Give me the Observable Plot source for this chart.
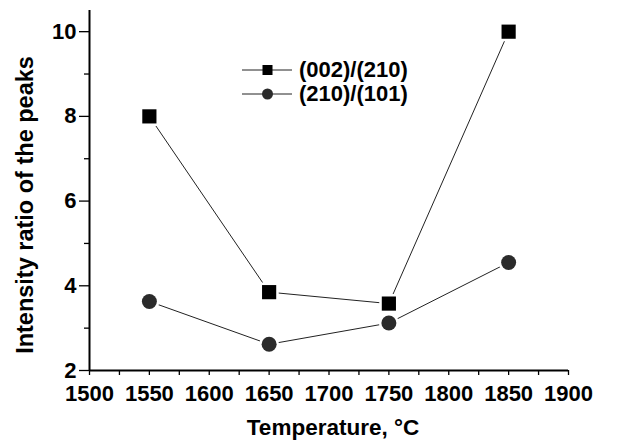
<!DOCTYPE html>
<html>
<head>
<meta charset="utf-8">
<script src="https://cdn.jsdelivr.net/npm/d3@7"></script>
<script src="https://cdn.jsdelivr.net/npm/@observablehq/plot@0.6"></script>
<style>
  html, body { margin: 0; padding: 0; background: #fff; }
  #wrap { position: relative; width: 620px; height: 440px; font-family: "Liberation Sans", Arial, sans-serif; }
  #legend { position: absolute; left: 240px; top: 58px; }
  #legend .row { display: flex; align-items: center; height: 24px; font-weight: bold; font-size: 22px; color: #000; }
  #legend svg { margin-right: 5px; }
</style>
</head>
<body>
<div id="wrap"></div>
<script>
const temperatures = [1550, 1650, 1750, 1850];
const ratio002_210 = [8.0, 3.85, 3.58, 10.0];
const ratio210_101 = [3.63, 2.62, 3.12, 4.55];
const seriesNames = ["(002)/(210)", "(210)/(101)"];
const xLabelTicks = [1500, 1550, 1600, 1650, 1700, 1750, 1800, 1850, 1900];
const xMinorTicks = d3.range(1500, 1901, 25);
const yLabelTicks = [2, 4, 6, 8, 10];
const yMinorTicks = [3, 5, 7, 9];

const sq = temperatures.map((t, i) => ({t, v: ratio002_210[i]}));
const ci = temperatures.map((t, i) => ({t, v: ratio210_101[i]}));

const font = "Liberation Sans, Arial, sans-serif";

const plot = Plot.plot({
  width: 620,
  height: 440,
  marginLeft: 89,
  marginRight: 52,
  marginTop: 10,
  marginBottom: 70,
  style: {fontFamily: font, fontWeight: "bold", background: "white", color: "black"},
  x: {domain: [1500, 1900]},
  y: {domain: [2, 10.5]},
  marks: [
    Plot.axisX(xMinorTicks, {tickSize: 5, tickFormat: () => "", stroke: "black", strokeWidth: 1.3, label: null}),
    Plot.axisX(xLabelTicks, {tickSize: 0, tickPadding: 15, fontSize: 22, fontWeight: "bold", tickFormat: d => String(d), label: null}),
    Plot.axisY(yLabelTicks, {tickSize: 10, tickPadding: 3, fontSize: 22, fontWeight: "bold", stroke: "black", strokeWidth: 1.3, label: null}),
    Plot.axisY(yMinorTicks, {tickSize: 5, tickFormat: () => "", stroke: "black", strokeWidth: 1.3, label: null}),
    Plot.ruleY([2], {stroke: "black", strokeWidth: 2}),
    Plot.ruleX([1500], {stroke: "black", strokeWidth: 2}),
    Plot.line(sq, {x: "t", y: "v", stroke: "#222", strokeWidth: 1}),
    Plot.line(ci, {x: "t", y: "v", stroke: "#222", strokeWidth: 1}),
    Plot.dot(sq, {x: "t", y: "v", symbol: "square", r: 8, fill: "black", stroke: "white", strokeWidth: 5, paintOrder: "stroke"}),
    Plot.dot(ci, {x: "t", y: "v", symbol: "circle", r: 7.5, fill: "#2b2b2b", stroke: "white", strokeWidth: 5, paintOrder: "stroke"})
  ]
});

const svg = d3.select(plot);
svg.selectAll("text").style("font-size", "22px").style("font-weight", "bold");

svg.append("text")
  .attr("x", 333).attr("y", 435)
  .attr("text-anchor", "middle")
  .style("font-family", font).style("font-weight", "bold").style("font-size", "22.5px")
  .text("Temperature, °C");
svg.append("text")
  .attr("transform", "translate(33,205) rotate(-90)")
  .attr("text-anchor", "middle")
  .style("font-family", font).style("font-weight", "bold").style("font-size", "23.5px")
  .text("Intensity ratio of the peaks");

const wrap = document.getElementById("wrap");
wrap.appendChild(plot);

const legend = document.createElement("div");
legend.id = "legend";
seriesNames.forEach((name, i) => {
  const row = document.createElement("div");
  row.className = "row";
  const s = d3.create("svg").attr("width", 54).attr("height", 20);
  s.append("line").attr("x1", 2).attr("x2", 52).attr("y1", 10).attr("y2", 10).attr("stroke", "#222").attr("stroke-width", 1);
  if (i === 0) s.append("rect").attr("x", 22.5).attr("y", 5).attr("width", 10).attr("height", 10).attr("fill", "black");
  else s.append("circle").attr("cx", 27.5).attr("cy", 10).attr("r", 5.5).attr("fill", "#2b2b2b");
  row.appendChild(s.node());
  const t = document.createElement("span");
  t.textContent = name;
  row.appendChild(t);
  legend.appendChild(row);
});
wrap.appendChild(legend);
</script>
</body>
</html>
